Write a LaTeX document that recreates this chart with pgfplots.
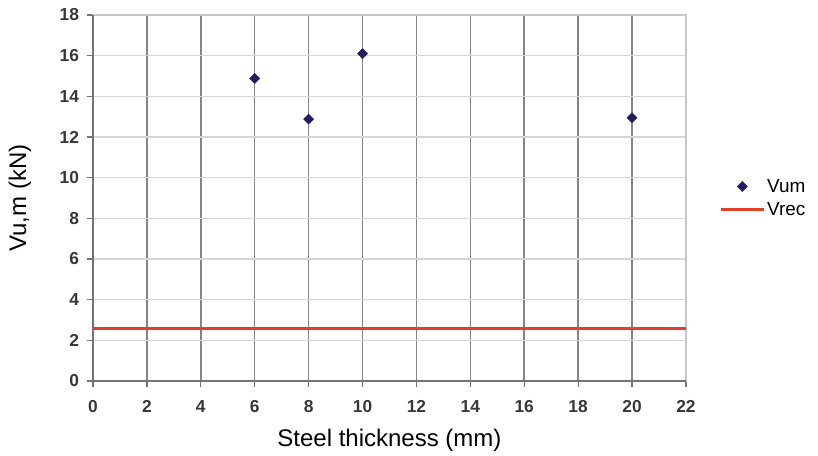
\documentclass[border=0pt]{standalone}
\usepackage{pgfplots}
\pgfplotsset{compat=1.18}
\usepackage{fontspec}
\setmainfont{Liberation Sans}
\definecolor{vumcol}{RGB}{32,30,95}
\definecolor{vreccol}{RGB}{226,62,44}
\definecolor{ticktext}{RGB}{55,55,55}
\pgfplotsset{
  markleg/.style={legend image code/.code={\draw[mark repeat=2,mark phase=2,##1] plot coordinates {(0pt,0pt)(16pt,0pt)(32pt,0pt)};}},
  lineleg/.style={legend image code/.code={\draw[##1] (0pt,0pt) -- (32pt,0pt);}},
}
\begin{document}
\begin{tikzpicture}
\useasboundingbox (-69.75pt,-55.5pt) rectangle (543.75pt,285.75pt);
\begin{axis}[
  at={(0,0)}, anchor=south west,
  scale only axis,
  width=444.7pt, height=274.5pt,
  xmin=0, xmax=22, ymin=0, ymax=18,
  xtick={0,2,...,22}, ytick={0,2,...,18},
  /pgf/number format/assume math mode=true,
  ticklabel style={font=\fontsize{13}{15}\selectfont\bfseries, text=ticktext},
  xticklabel style={yshift=-6.5pt},
  yticklabel style={xshift=-2.5pt},
  xmajorgrids, ymajorgrids,
  x grid style={black!48, line width=1.1pt},
  y grid style={black!16, line width=1pt},
  axis line style={black!22, line width=0.9pt},
  tick align=outside,
  xtick pos=left, ytick pos=left,
  major tick length=4.5pt,
  tick style={black!55, line width=0.9pt},
  xlabel={Steel thickness (mm)},
  ylabel={Vu,m (kN)},
  label style={font=\fontsize{18}{21}\selectfont},
  xlabel style={at={(axis description cs:0.5,-0.1803)}, anchor=base},
  ylabel style={at={(axis description cs:-0.1231,0.5)}, anchor=center},
  legend style={at={(axis description cs:1,0.5)}, anchor=west, xshift=25pt,
    draw=none, fill=none, inner sep=0pt,
    font=\fontsize{14.2}{16}\selectfont, row sep=3pt,
    nodes={inner sep=1.5pt}},
  legend cell align=left,
  clip=false,
]
\addplot[only marks, mark=square*, mark size=2.65pt, mark options={rotate=45}, color=vumcol, markleg]
  coordinates {(6,14.88) (8,12.88) (10,16.1) (20,12.95)};
\addlegendentry{Vum}
\addplot[color=vreccol, line width=2.2pt, mark=none, lineleg]
  coordinates {(0,2.56) (22,2.56)};
\addlegendentry{Vrec}
\draw[black!55, line width=0.9pt] (rel axis cs:0,1) -- (rel axis cs:0,0) -- (rel axis cs:1,0);
\end{axis}
\end{tikzpicture}
\end{document}
